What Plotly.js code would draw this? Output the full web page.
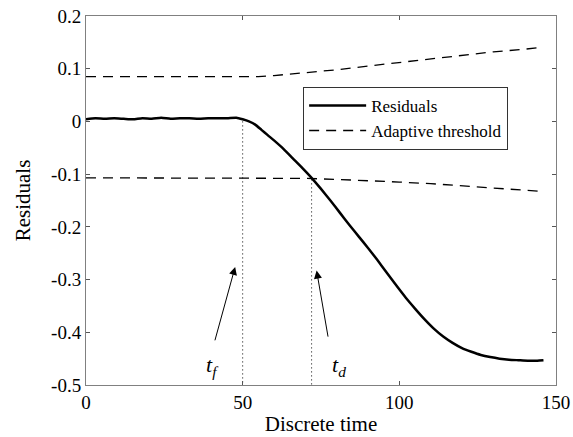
<!DOCTYPE html>
<html>
<head>
<meta charset="utf-8">
<script src="https://cdn.plot.ly/plotly-3.0.1.min.js"></script>
<style>html,body{margin:0;padding:0;background:#fff;}#chart{width:573px;height:437px;}</style>
</head>
<body>
<div id="chart"></div>
<script>
// Residual signal
const residualTime = [0,3,6,9,12,15,18,21,24,27,30,33,36,39,42,45,48,50,52,54,56,58,60,63,66,69,72,75,78,81,84,87,90,93,96,99,102,105,108,111,114,117,120,123,126,129,132,135,138,141,144,146];
const residualValue = [0.004,0.006,0.005,0.006,0.005,0.004,0.006,0.005,0.007,0.005,0.006,0.006,0.005,0.006,0.006,0.006,0.007,0.004,0.0,-0.006,-0.016,-0.026,-0.036,-0.052,-0.070,-0.088,-0.107,-0.128,-0.150,-0.173,-0.196,-0.218,-0.240,-0.263,-0.287,-0.311,-0.334,-0.355,-0.375,-0.393,-0.408,-0.420,-0.430,-0.437,-0.443,-0.447,-0.450,-0.452,-0.453,-0.454,-0.454,-0.453];

// Adaptive thresholds
const thresholdTime = [0,10,20,30,40,50,55,60,70,80,90,100,110,120,130,140,146];
const upperThreshold = [0.085,0.085,0.085,0.085,0.085,0.085,0.085,0.087,0.092,0.098,0.105,0.112,0.119,0.126,0.132,0.137,0.141];
const lowerThreshold = [-0.107,-0.107,-0.107,-0.107,-0.107,-0.107,-0.107,-0.1075,-0.108,-0.110,-0.112,-0.115,-0.118,-0.122,-0.126,-0.130,-0.133];

// Events
const faultTime = 50, faultTop = 0.0;
const detectTime = 72, detectTop = -0.11;
const yMin = -0.5;

const serif = "'Liberation Serif', serif";

const traces = [
  {x: residualTime, y: residualValue, type: 'scatter', mode: 'lines', name: 'Residuals',
   line: {color: '#000', width: 2.5, shape: 'spline', smoothing: 0.6}},
  {x: thresholdTime, y: upperThreshold, type: 'scatter', mode: 'lines', name: 'Adaptive threshold',
   line: {color: '#000', width: 1.3, dash: '10px,7px'}},
  {x: thresholdTime, y: lowerThreshold, type: 'scatter', mode: 'lines', name: 'Adaptive threshold', showlegend: false,
   line: {color: '#000', width: 1.3, dash: '10px,7px'}},
  {x: [faultTime, faultTime], y: [faultTop, yMin], type: 'scatter', mode: 'lines', showlegend: false,
   line: {color: '#000', width: 1, dash: '1px,3px'}},
  {x: [detectTime, detectTime], y: [detectTop, yMin], type: 'scatter', mode: 'lines', showlegend: false,
   line: {color: '#000', width: 1, dash: '1px,3px'}}
];

const tickFont = {family: serif, size: 19, color: '#000'};
const titleFont = {family: serif, size: 21, color: '#000'};

const layout = {
  width: 573, height: 437,
  margin: {l: 86, r: 17, t: 16, b: 52},
  paper_bgcolor: '#fff', plot_bgcolor: '#fff',
  font: {family: serif, size: 19, color: '#000'},
  showlegend: true,
  legend: {x: 0.462, y: 0.808, xanchor: 'left', yanchor: 'top',
           bgcolor: '#fff', bordercolor: '#333', borderwidth: 1,
           font: {family: serif, size: 17, color: '#000'},
           itemwidth: 57, tracegroupgap: 0},
  xaxis: {
    showline: true, linecolor: '#808080', linewidth: 1, mirror: 'ticks',
    ticks: 'inside', ticklen: 4, tickcolor: '#555', tickwidth: 1,
    showgrid: false, zeroline: false, tickfont: tickFont,
    range: [0, 150], tickvals: [0, 50, 100, 150],
    title: {text: 'Discrete time', font: titleFont, standoff: 4}
  },
  yaxis: {
    showline: true, linecolor: '#808080', linewidth: 1, mirror: 'ticks',
    ticks: 'inside', ticklen: 4, tickcolor: '#555', tickwidth: 1,
    showgrid: false, zeroline: false, tickfont: tickFont,
    range: [-0.5, 0.2], tickvals: [-0.5,-0.4,-0.3,-0.2,-0.1,0,0.1,0.2],
    ticktext: ['-0.5','-0.4','-0.3','-0.2','-0.1','0','0.1','0.2'],
    title: {text: 'Residuals', font: titleFont, standoff: 14}
  },
  annotations: [
    {x: 47.6, y: -0.276, ax: 40.1, ay: -0.438, xref: 'x', yref: 'y', axref: 'x', ayref: 'y',
     showarrow: true, arrowhead: 2, arrowsize: 1.6, arrowwidth: 1, arrowcolor: '#000', text: ' '},
    {x: 73.6, y: -0.283, ax: 77.9, ay: -0.431, xref: 'x', yref: 'y', axref: 'x', ayref: 'y',
     showarrow: true, arrowhead: 2, arrowsize: 1.6, arrowwidth: 1, arrowcolor: '#000', text: ' '},
    {x: 40.5, y: -0.463, xref: 'x', yref: 'y', showarrow: false,
     text: '<i>t</i><sub><i>f</i></sub>', font: {family: serif, size: 22, color: '#000'}},
    {x: 80.6, y: -0.463, xref: 'x', yref: 'y', showarrow: false,
     text: '<i>t</i><sub><i>d</i></sub>', font: {family: serif, size: 22, color: '#000'}}
  ]
};

Plotly.newPlot('chart', traces, layout, {displayModeBar: false, staticPlot: true});
</script>
</body>
</html>
